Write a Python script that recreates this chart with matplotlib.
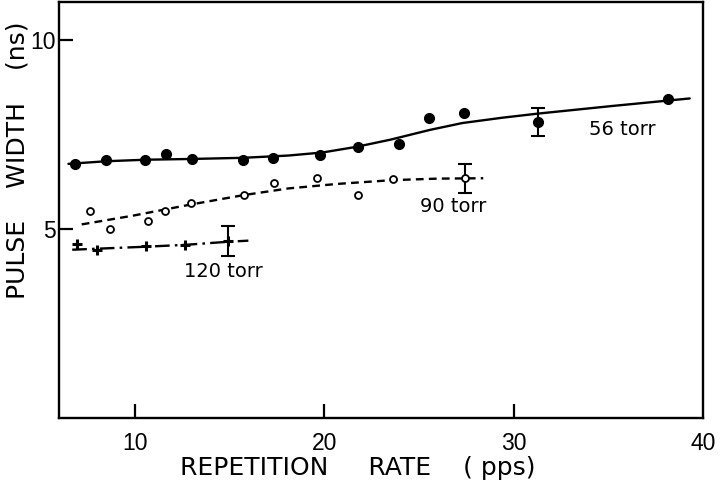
import numpy as np
import matplotlib
matplotlib.use('Agg')
import matplotlib.pyplot as plt

rate_56 = [6.87, 8.46, 10.56, 11.66, 13.03, 15.71, 17.29, 19.79, 21.78, 23.95, 25.53, 27.40, 31.30, 38.15]
width_56 = [6.72, 6.81, 6.83, 6.98, 6.85, 6.83, 6.87, 6.96, 7.16, 7.25, 7.93, 8.07, 7.84, 8.43]
rate_90 = [7.64, 8.67, 10.70, 11.60, 12.99, 15.78, 17.35, 19.62, 21.81, 23.62, 27.43]
width_90 = [5.48, 4.99, 5.21, 5.48, 5.68, 5.91, 6.22, 6.35, 5.91, 6.33, 6.34]
rate_120 = [6.93, 8.02, 10.60, 12.67, 14.92]
width_120 = [4.60, 4.45, 4.54, 4.58, 4.69]

# one error bar per series: (index of point, half height)
err_56 = (12, 0.37)
err_90 = (10, 0.38)
err_120 = (4, 0.40)

# hand drawn trend curves
fit_56_x = [6.5, 8.5, 10.6, 13.0, 15.7, 18.1, 19.9, 21.7, 23.5, 25.6, 27.3, 29.4, 31.3, 35.2, 39.3]
fit_56_y = [6.72, 6.79, 6.83, 6.85, 6.88, 6.94, 7.02, 7.17, 7.36, 7.62, 7.80, 7.94, 8.05, 8.25, 8.45]
fit_90_x = [7.2, 9.9, 12.9, 15.7, 18.1, 20.7, 23.6, 26.0, 28.4]
fit_90_y = [5.12, 5.35, 5.64, 5.89, 6.07, 6.19, 6.29, 6.33, 6.34]
fit_120_x = [6.7, 10.6, 12.7, 14.9, 16.0]
fit_120_y = [4.45, 4.53, 4.58, 4.66, 4.69]

labels = ['56 torr', '90 torr', '120 torr']
label_pos = [(34.0, 7.63), (25.06, 5.58), (12.6, 3.87)]

xticks = [10, 20, 30, 40]
yticks = [5, 10]

fig = plt.figure(figsize=(7.2, 4.9), dpi=100)
ax = fig.add_axes([0.0819, 0.1469, 0.8944, 0.849])

lw = 1.7
ax.plot(fit_56_x, fit_56_y, color='black', lw=lw, solid_capstyle='round')
l90, = ax.plot(fit_90_x, fit_90_y, color='black', lw=lw)
l90.set_dashes((3.3, 2.2))
l120, = ax.plot(fit_120_x, fit_120_y, color='black', lw=lw)
l120.set_dashes((6.2, 2.2, 1.1, 2.2))

ax.plot(rate_56, width_56, 'o', color='black', ms=7, zorder=3)
ax.plot(rate_90, width_90, 'o', mfc='white', mec='black', mew=1.3, ms=5, zorder=3)
ax.plot(rate_120, width_120, '+', color='black', ms=7.5, mew=2.2, zorder=3)

for rx, wy, (i, e) in [(rate_56, width_56, err_56), (rate_90, width_90, err_90), (rate_120, width_120, err_120)]:
	ax.errorbar([rx[i]], [wy[i]], yerr=[e], fmt='none', ecolor='black', elinewidth=1.5, capsize=5, capthick=1.5, zorder=2)

for txt, (tx, ty) in zip(labels, label_pos):
	ax.text(tx, ty, txt, fontsize=14, ha='left', va='center', family='DejaVu Sans')

ax.set_xlim(6, 40)
ax.set_ylim(0, 11)
ax.set_xticks(xticks)
ax.set_yticks(yticks)
ax.tick_params(direction='in', length=10, width=1.6, labelsize=16.5)
ax.tick_params(axis='x', pad=10)
ax.tick_params(axis='y', pad=2.5)
for lab in ax.get_xticklabels() + ax.get_yticklabels():
	lab.set_family(['Liberation Sans', 'DejaVu Sans'])
# no tick mark at 40, it sits on the right spine
ax.xaxis.get_major_ticks()[-1].tick1line.set_visible(False)
for sp in ax.spines.values():
	sp.set_linewidth(1.7)

ax.set_xlabel('REPETITION     RATE    ( pps)', fontsize=18)
ax.xaxis.set_label_coords(0.464, -0.12)
ax.xaxis.label.set_va('center')
ax.set_ylabel('PULSE    WIDTH    (ns)', fontsize=18)
ax.yaxis.set_label_coords(-0.064, 0.62)
ax.yaxis.label.set_va('center')

plt.savefig('out.png', dpi=100)
